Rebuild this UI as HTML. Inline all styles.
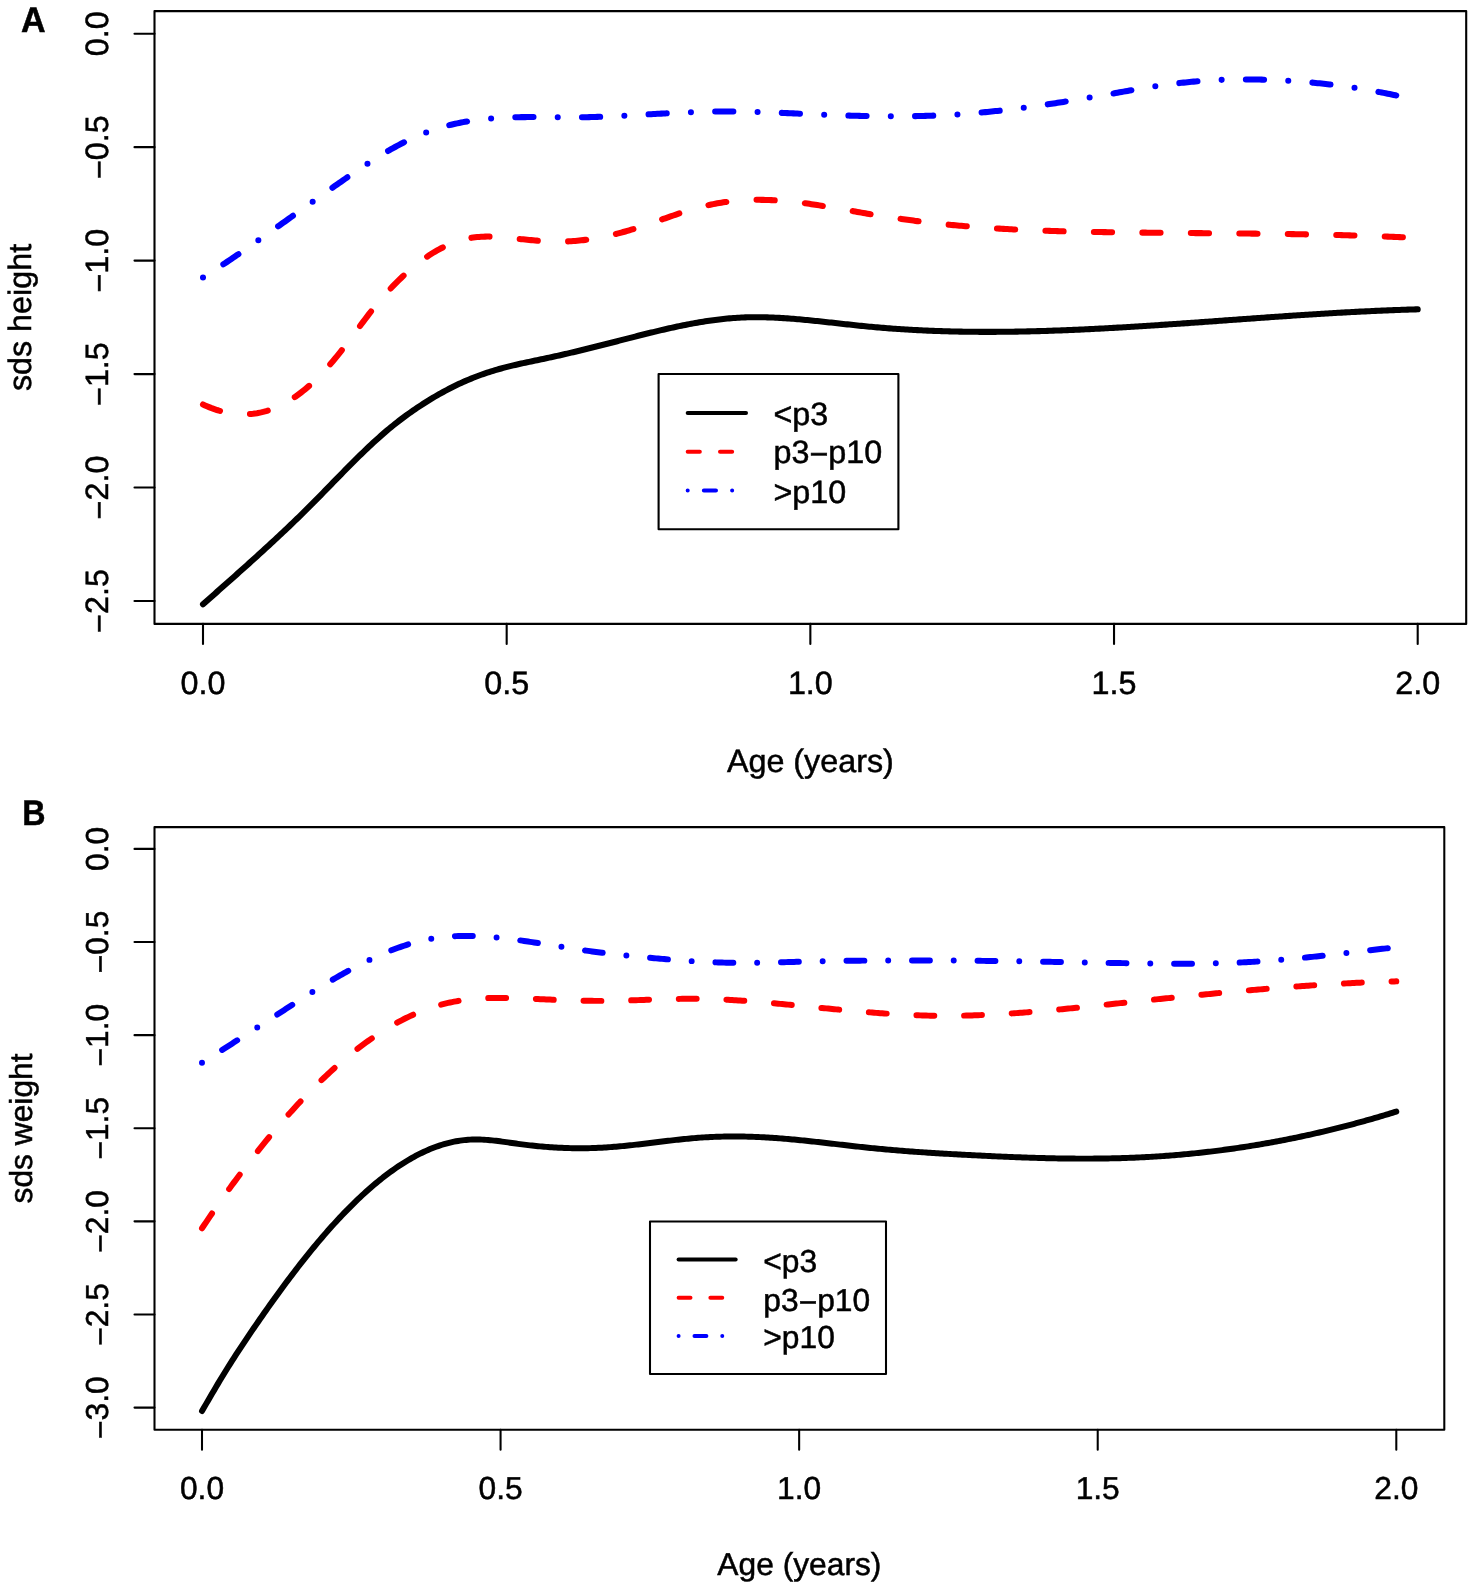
<!DOCTYPE html>
<html><head><meta charset="utf-8"><title>sds height and weight</title>
<style>
html,body{margin:0;padding:0;background:#fff;}
svg{display:block;will-change:transform;text-rendering:geometricPrecision;font-family:"Liberation Sans",sans-serif;}
text{stroke:#000;stroke-width:0.5px;}
</style></head><body>
<svg width="1476" height="1589" viewBox="0 0 1476 1589">
<rect x="0" y="0" width="1476" height="1589" fill="#fff"/>
<rect x="154.50" y="11.10" width="1311.70" height="612.80" fill="none" stroke="#000" stroke-width="2.10" stroke-linejoin="round"/>
<line x1="134.50" y1="33.70" x2="154.50" y2="33.70" stroke="#000" stroke-width="2.10" stroke-linecap="round"/>
<text transform="translate(107.80 33.70) rotate(-90)" text-anchor="middle" font-size="32.30">0.0</text>
<line x1="134.50" y1="147.16" x2="154.50" y2="147.16" stroke="#000" stroke-width="2.10" stroke-linecap="round"/>
<text transform="translate(107.80 147.16) rotate(-90)" text-anchor="middle" font-size="32.30"><tspan dy="2.1">&#8722;</tspan><tspan dy="-2.1">0.5</tspan></text>
<line x1="134.50" y1="260.62" x2="154.50" y2="260.62" stroke="#000" stroke-width="2.10" stroke-linecap="round"/>
<text transform="translate(107.80 260.62) rotate(-90)" text-anchor="middle" font-size="32.30"><tspan dy="2.1">&#8722;</tspan><tspan dy="-2.1">1.0</tspan></text>
<line x1="134.50" y1="374.08" x2="154.50" y2="374.08" stroke="#000" stroke-width="2.10" stroke-linecap="round"/>
<text transform="translate(107.80 374.08) rotate(-90)" text-anchor="middle" font-size="32.30"><tspan dy="2.1">&#8722;</tspan><tspan dy="-2.1">1.5</tspan></text>
<line x1="134.50" y1="487.54" x2="154.50" y2="487.54" stroke="#000" stroke-width="2.10" stroke-linecap="round"/>
<text transform="translate(107.80 487.54) rotate(-90)" text-anchor="middle" font-size="32.30"><tspan dy="2.1">&#8722;</tspan><tspan dy="-2.1">2.0</tspan></text>
<line x1="134.50" y1="601.00" x2="154.50" y2="601.00" stroke="#000" stroke-width="2.10" stroke-linecap="round"/>
<text transform="translate(107.80 601.00) rotate(-90)" text-anchor="middle" font-size="32.30"><tspan dy="2.1">&#8722;</tspan><tspan dy="-2.1">2.5</tspan></text>
<line x1="203.00" y1="623.90" x2="203.00" y2="643.90" stroke="#000" stroke-width="2.10" stroke-linecap="round"/>
<text x="203.00" y="694.30" text-anchor="middle" font-size="32.30">0.0</text>
<line x1="506.68" y1="623.90" x2="506.68" y2="643.90" stroke="#000" stroke-width="2.10" stroke-linecap="round"/>
<text x="506.68" y="694.30" text-anchor="middle" font-size="32.30">0.5</text>
<line x1="810.35" y1="623.90" x2="810.35" y2="643.90" stroke="#000" stroke-width="2.10" stroke-linecap="round"/>
<text x="810.35" y="694.30" text-anchor="middle" font-size="32.30">1.0</text>
<line x1="1114.03" y1="623.90" x2="1114.03" y2="643.90" stroke="#000" stroke-width="2.10" stroke-linecap="round"/>
<text x="1114.03" y="694.30" text-anchor="middle" font-size="32.30">1.5</text>
<line x1="1417.70" y1="623.90" x2="1417.70" y2="643.90" stroke="#000" stroke-width="2.10" stroke-linecap="round"/>
<text x="1417.70" y="694.30" text-anchor="middle" font-size="32.30">2.0</text>
<text x="810.35" y="771.90" text-anchor="middle" font-size="32.30">Age (years)</text>
<text transform="translate(30.50 317.50) rotate(-90)" text-anchor="middle" font-size="32.30">sds height</text>
<text transform="translate(21.00 31.90) scale(0.960 1)" font-size="35.50" font-weight="bold">A</text>
<path d="M203.00 604.30L205.00 602.52L207.00 600.74L209.00 598.97L211.00 597.19L213.01 595.42L215.01 593.65L217.01 591.87L219.01 590.10L221.01 588.33L223.01 586.55L225.01 584.78L227.01 583.01L229.01 581.23L231.02 579.45L233.02 577.68L235.02 575.90L237.02 574.12L239.02 572.33L241.02 570.55L243.02 568.76L245.02 566.97L247.03 565.17L249.03 563.38L251.03 561.58L253.03 559.77L255.03 557.97L257.03 556.15L259.03 554.34L261.03 552.52L263.03 550.69L265.04 548.86L267.04 547.03L269.04 545.19L271.04 543.34L273.04 541.49L275.04 539.63L277.04 537.77L279.04 535.90L281.04 534.02L283.05 532.14L285.05 530.25L287.05 528.35L289.05 526.45L291.05 524.53L293.05 522.61L295.05 520.68L297.05 518.75L299.06 516.80L301.06 514.84L303.06 512.88L305.06 510.91L307.06 508.93L309.06 506.93L311.06 504.93L313.06 502.92L315.06 500.90L317.07 498.87L319.07 496.84L321.07 494.80L323.07 492.75L325.07 490.70L327.07 488.65L329.07 486.60L331.07 484.54L333.07 482.49L335.08 480.44L337.08 478.38L339.08 476.34L341.08 474.29L343.08 472.25L345.08 470.21L347.08 468.19L349.08 466.16L351.09 464.15L353.09 462.15L355.09 460.15L357.09 458.17L359.09 456.20L361.09 454.25L363.09 452.30L365.09 450.38L367.09 448.46L369.10 446.57L371.10 444.69L373.10 442.83L375.10 441.00L377.10 439.18L379.10 437.38L381.10 435.61L383.10 433.86L385.10 432.13L387.11 430.43L389.11 428.76L391.11 427.11L393.11 425.49L395.11 423.89L397.11 422.31L399.11 420.76L401.11 419.24L403.12 417.73L405.12 416.25L407.12 414.80L409.12 413.36L411.12 411.95L413.12 410.55L415.12 409.18L417.12 407.83L419.12 406.50L421.13 405.19L423.13 403.89L425.13 402.62L427.13 401.36L429.13 400.13L431.13 398.91L433.13 397.71L435.13 396.52L437.13 395.36L439.14 394.22L441.14 393.09L443.14 391.99L445.14 390.90L447.14 389.84L449.14 388.79L451.14 387.76L453.14 386.76L455.15 385.77L457.15 384.80L459.15 383.85L461.15 382.93L463.15 382.02L465.15 381.14L467.15 380.27L469.15 379.42L471.15 378.60L473.16 377.79L475.16 377.00L477.16 376.24L479.16 375.49L481.16 374.76L483.16 374.05L485.16 373.36L487.16 372.69L489.16 372.03L491.17 371.40L493.17 370.78L495.17 370.18L497.17 369.59L499.17 369.03L501.17 368.47L503.17 367.93L505.17 367.41L507.18 366.89L509.18 366.39L511.18 365.90L513.18 365.42L515.18 364.95L517.18 364.48L519.18 364.03L521.18 363.58L523.18 363.14L525.19 362.71L527.19 362.27L529.19 361.85L531.19 361.42L533.19 361.00L535.19 360.59L537.19 360.17L539.19 359.75L541.19 359.33L543.20 358.91L545.20 358.49L547.20 358.07L549.20 357.64L551.20 357.21L553.20 356.77L555.20 356.33L557.20 355.89L559.21 355.44L561.21 354.98L563.21 354.53L565.21 354.07L567.21 353.60L569.21 353.13L571.21 352.66L573.21 352.19L575.21 351.71L577.22 351.23L579.22 350.75L581.22 350.26L583.22 349.77L585.22 349.28L587.22 348.79L589.22 348.29L591.22 347.79L593.22 347.29L595.23 346.79L597.23 346.29L599.23 345.78L601.23 345.27L603.23 344.77L605.23 344.26L607.23 343.75L609.23 343.24L611.24 342.73L613.24 342.21L615.24 341.70L617.24 341.19L619.24 340.67L621.24 340.16L623.24 339.65L625.24 339.13L627.24 338.62L629.25 338.11L631.25 337.59L633.25 337.08L635.25 336.57L637.25 336.06L639.25 335.56L641.25 335.05L643.25 334.55L645.25 334.05L647.26 333.55L649.26 333.06L651.26 332.56L653.26 332.08L655.26 331.59L657.26 331.11L659.26 330.63L661.26 330.16L663.27 329.69L665.27 329.23L667.27 328.77L669.27 328.32L671.27 327.87L673.27 327.43L675.27 326.99L677.27 326.57L679.27 326.14L681.28 325.73L683.28 325.32L685.28 324.92L687.28 324.52L689.28 324.14L691.28 323.76L693.28 323.39L695.28 323.02L697.28 322.67L699.29 322.33L701.29 321.99L703.29 321.66L705.29 321.35L707.29 321.04L709.29 320.74L711.29 320.46L713.29 320.18L715.30 319.92L717.30 319.66L719.30 319.42L721.30 319.19L723.30 318.97L725.30 318.76L727.30 318.57L729.30 318.39L731.30 318.22L733.31 318.06L735.31 317.92L737.31 317.79L739.31 317.67L741.31 317.57L743.31 317.48L745.31 317.40L747.31 317.34L749.31 317.29L751.32 317.25L753.32 317.23L755.32 317.22L757.32 317.22L759.32 317.23L761.32 317.25L763.32 317.28L765.32 317.32L767.33 317.38L769.33 317.44L771.33 317.51L773.33 317.59L775.33 317.68L777.33 317.78L779.33 317.89L781.33 318.00L783.33 318.13L785.34 318.26L787.34 318.39L789.34 318.54L791.34 318.69L793.34 318.85L795.34 319.01L797.34 319.18L799.34 319.35L801.34 319.53L803.35 319.71L805.35 319.90L807.35 320.09L809.35 320.28L811.35 320.48L813.35 320.68L815.35 320.89L817.35 321.09L819.36 321.31L821.36 321.52L823.36 321.73L825.36 321.95L827.36 322.17L829.36 322.39L831.36 322.61L833.36 322.83L835.36 323.05L837.37 323.27L839.37 323.49L841.37 323.72L843.37 323.94L845.37 324.16L847.37 324.38L849.37 324.60L851.37 324.81L853.37 325.03L855.38 325.24L857.38 325.45L859.38 325.66L861.38 325.87L863.38 326.07L865.38 326.27L867.38 326.46L869.38 326.66L871.39 326.84L873.39 327.03L875.39 327.21L877.39 327.39L879.39 327.56L881.39 327.73L883.39 327.89L885.39 328.05L887.39 328.21L889.40 328.36L891.40 328.52L893.40 328.66L895.40 328.80L897.40 328.94L899.40 329.08L901.40 329.21L903.40 329.34L905.40 329.47L907.41 329.59L909.41 329.71L911.41 329.82L913.41 329.93L915.41 330.04L917.41 330.14L919.41 330.25L921.41 330.34L923.42 330.44L925.42 330.53L927.42 330.62L929.42 330.70L931.42 330.78L933.42 330.86L935.42 330.94L937.42 331.01L939.42 331.08L941.43 331.15L943.43 331.21L945.43 331.27L947.43 331.33L949.43 331.38L951.43 331.43L953.43 331.48L955.43 331.52L957.43 331.57L959.44 331.61L961.44 331.64L963.44 331.68L965.44 331.71L967.44 331.73L969.44 331.76L971.44 331.78L973.44 331.80L975.45 331.82L977.45 331.83L979.45 331.85L981.45 331.86L983.45 331.86L985.45 331.87L987.45 331.87L989.45 331.87L991.45 331.86L993.46 331.86L995.46 331.85L997.46 331.84L999.46 331.83L1001.46 331.81L1003.46 331.79L1005.46 331.77L1007.46 331.75L1009.46 331.72L1011.47 331.70L1013.47 331.67L1015.47 331.64L1017.47 331.60L1019.47 331.57L1021.47 331.53L1023.47 331.49L1025.47 331.45L1027.48 331.40L1029.48 331.36L1031.48 331.31L1033.48 331.26L1035.48 331.21L1037.48 331.15L1039.48 331.10L1041.48 331.04L1043.48 330.98L1045.49 330.92L1047.49 330.85L1049.49 330.79L1051.49 330.72L1053.49 330.65L1055.49 330.58L1057.49 330.51L1059.49 330.43L1061.49 330.36L1063.50 330.28L1065.50 330.20L1067.50 330.12L1069.50 330.04L1071.50 329.95L1073.50 329.87L1075.50 329.78L1077.50 329.69L1079.51 329.60L1081.51 329.51L1083.51 329.42L1085.51 329.33L1087.51 329.23L1089.51 329.13L1091.51 329.04L1093.51 328.94L1095.51 328.83L1097.52 328.73L1099.52 328.63L1101.52 328.52L1103.52 328.42L1105.52 328.31L1107.52 328.20L1109.52 328.09L1111.52 327.98L1113.52 327.87L1115.53 327.76L1117.53 327.64L1119.53 327.53L1121.53 327.41L1123.53 327.29L1125.53 327.18L1127.53 327.06L1129.53 326.94L1131.54 326.81L1133.54 326.69L1135.54 326.57L1137.54 326.45L1139.54 326.32L1141.54 326.19L1143.54 326.07L1145.54 325.94L1147.54 325.81L1149.55 325.68L1151.55 325.55L1153.55 325.42L1155.55 325.29L1157.55 325.16L1159.55 325.03L1161.55 324.89L1163.55 324.76L1165.55 324.62L1167.56 324.49L1169.56 324.35L1171.56 324.22L1173.56 324.08L1175.56 323.94L1177.56 323.80L1179.56 323.67L1181.56 323.53L1183.57 323.39L1185.57 323.25L1187.57 323.11L1189.57 322.97L1191.57 322.82L1193.57 322.68L1195.57 322.54L1197.57 322.40L1199.57 322.26L1201.58 322.11L1203.58 321.97L1205.58 321.83L1207.58 321.68L1209.58 321.54L1211.58 321.40L1213.58 321.25L1215.58 321.11L1217.58 320.96L1219.59 320.82L1221.59 320.68L1223.59 320.53L1225.59 320.39L1227.59 320.24L1229.59 320.10L1231.59 319.95L1233.59 319.81L1235.60 319.67L1237.60 319.52L1239.60 319.38L1241.60 319.23L1243.60 319.09L1245.60 318.95L1247.60 318.80L1249.60 318.66L1251.60 318.51L1253.61 318.37L1255.61 318.23L1257.61 318.09L1259.61 317.94L1261.61 317.80L1263.61 317.66L1265.61 317.52L1267.61 317.38L1269.61 317.24L1271.62 317.10L1273.62 316.96L1275.62 316.82L1277.62 316.68L1279.62 316.54L1281.62 316.41L1283.62 316.27L1285.62 316.13L1287.63 316.00L1289.63 315.86L1291.63 315.73L1293.63 315.59L1295.63 315.46L1297.63 315.33L1299.63 315.20L1301.63 315.06L1303.63 314.93L1305.64 314.80L1307.64 314.67L1309.64 314.55L1311.64 314.42L1313.64 314.29L1315.64 314.17L1317.64 314.04L1319.64 313.92L1321.64 313.79L1323.65 313.67L1325.65 313.55L1327.65 313.43L1329.65 313.31L1331.65 313.19L1333.65 313.08L1335.65 312.96L1337.65 312.84L1339.66 312.73L1341.66 312.62L1343.66 312.50L1345.66 312.39L1347.66 312.28L1349.66 312.18L1351.66 312.07L1353.66 311.96L1355.66 311.86L1357.67 311.75L1359.67 311.65L1361.67 311.55L1363.67 311.45L1365.67 311.35L1367.67 311.26L1369.67 311.16L1371.67 311.07L1373.67 310.97L1375.68 310.88L1377.68 310.79L1379.68 310.71L1381.68 310.62L1383.68 310.53L1385.68 310.45L1387.68 310.37L1389.68 310.29L1391.69 310.21L1393.69 310.13L1395.69 310.06L1397.69 309.98L1399.69 309.91L1401.69 309.84L1403.69 309.77L1405.69 309.70L1407.69 309.64L1409.70 309.57L1411.70 309.51L1413.70 309.45L1415.70 309.39L1417.70 309.34" fill="none" stroke="#000" stroke-width="6.06" stroke-linecap="round" stroke-linejoin="round"/>
<path d="M203.00 404.50L205.00 405.42L207.00 406.30L209.00 407.13L211.00 407.92L213.01 408.66L215.01 409.36L217.01 410.02L219.01 410.63L221.01 411.19L223.01 411.71L225.01 412.18L227.01 412.61L229.01 412.98L231.02 413.32L233.02 413.60L235.02 413.83L237.02 414.02L239.02 414.16L241.02 414.25L243.02 414.29L245.02 414.28L247.03 414.22L249.03 414.11L251.03 413.95L253.03 413.74L255.03 413.47L257.03 413.16L259.03 412.79L261.03 412.37L263.03 411.90L265.04 411.38L267.04 410.80L269.04 410.17L271.04 409.48L273.04 408.75L275.04 407.95L277.04 407.10L279.04 406.20L281.04 405.24L283.05 404.22L285.05 403.15L287.05 402.02L289.05 400.84L291.05 399.59L293.05 398.29L295.05 396.94L297.05 395.52L299.06 394.05L301.06 392.52L303.06 390.93L305.06 389.29L307.06 387.59L309.06 385.84L311.06 384.04L313.06 382.19L315.06 380.28L317.07 378.32L319.07 376.32L321.07 374.26L323.07 372.15L325.07 370.00L327.07 367.80L329.07 365.55L331.07 363.26L333.07 360.92L335.08 358.54L337.08 356.11L339.08 353.65L341.08 351.13L343.08 348.58L345.08 345.99L347.08 343.37L349.08 340.72L351.09 338.04L353.09 335.35L355.09 332.65L357.09 329.95L359.09 327.25L361.09 324.55L363.09 321.87L365.09 319.21L367.09 316.57L369.10 313.96L371.10 311.39L373.10 308.86L375.10 306.38L377.10 303.94L379.10 301.54L381.10 299.18L383.10 296.87L385.10 294.59L387.11 292.37L389.11 290.18L391.11 288.04L393.11 285.93L395.11 283.88L397.11 281.86L399.11 279.88L401.11 277.95L403.12 276.06L405.12 274.21L407.12 272.40L409.12 270.64L411.12 268.91L413.12 267.23L415.12 265.59L417.12 264.00L419.12 262.45L421.13 260.94L423.13 259.47L425.13 258.05L427.13 256.67L429.13 255.34L431.13 254.05L433.13 252.80L435.13 251.60L437.13 250.45L439.14 249.33L441.14 248.27L443.14 247.25L445.14 246.28L447.14 245.35L449.14 244.47L451.14 243.63L453.14 242.84L455.15 242.10L457.15 241.41L459.15 240.76L461.15 240.16L463.15 239.61L465.15 239.10L467.15 238.65L469.15 238.24L471.15 237.88L473.16 237.57L475.16 237.30L477.16 237.08L479.16 236.91L481.16 236.77L483.16 236.67L485.16 236.61L487.16 236.58L489.16 236.59L491.17 236.62L493.17 236.68L495.17 236.77L497.17 236.87L499.17 237.00L501.17 237.15L503.17 237.31L505.17 237.49L507.18 237.68L509.18 237.88L511.18 238.09L513.18 238.30L515.18 238.51L517.18 238.73L519.18 238.94L521.18 239.16L523.18 239.36L525.19 239.57L527.19 239.76L529.19 239.95L531.19 240.13L533.19 240.31L535.19 240.47L537.19 240.63L539.19 240.78L541.19 240.91L543.20 241.04L545.20 241.15L547.20 241.25L549.20 241.34L551.20 241.41L553.20 241.47L555.20 241.51L557.20 241.53L559.21 241.54L561.21 241.53L563.21 241.50L565.21 241.46L567.21 241.39L569.21 241.30L571.21 241.19L573.21 241.07L575.21 240.92L577.22 240.75L579.22 240.56L581.22 240.35L583.22 240.13L585.22 239.88L587.22 239.62L589.22 239.33L591.22 239.03L593.22 238.72L595.23 238.38L597.23 238.03L599.23 237.66L601.23 237.27L603.23 236.87L605.23 236.46L607.23 236.02L609.23 235.57L611.24 235.11L613.24 234.63L615.24 234.14L617.24 233.63L619.24 233.11L621.24 232.57L623.24 232.02L625.24 231.46L627.24 230.89L629.25 230.30L631.25 229.70L633.25 229.09L635.25 228.47L637.25 227.83L639.25 227.19L641.25 226.53L643.25 225.87L645.25 225.20L647.26 224.52L649.26 223.84L651.26 223.15L653.26 222.46L655.26 221.76L657.26 221.06L659.26 220.36L661.26 219.66L663.27 218.96L665.27 218.27L667.27 217.57L669.27 216.87L671.27 216.18L673.27 215.50L675.27 214.82L677.27 214.14L679.27 213.48L681.28 212.82L683.28 212.17L685.28 211.53L687.28 210.90L689.28 210.28L691.28 209.68L693.28 209.09L695.28 208.51L697.28 207.95L699.29 207.41L701.29 206.88L703.29 206.37L705.29 205.87L707.29 205.40L709.29 204.95L711.29 204.52L713.29 204.11L715.30 203.72L717.30 203.35L719.30 203.00L721.30 202.67L723.30 202.36L725.30 202.07L727.30 201.80L729.30 201.55L731.30 201.31L733.31 201.10L735.31 200.90L737.31 200.72L739.31 200.55L741.31 200.41L743.31 200.28L745.31 200.17L747.31 200.07L749.31 199.99L751.32 199.93L753.32 199.88L755.32 199.85L757.32 199.83L759.32 199.83L761.32 199.85L763.32 199.87L765.32 199.92L767.33 199.97L769.33 200.04L771.33 200.13L773.33 200.22L775.33 200.33L777.33 200.45L779.33 200.59L781.33 200.74L783.33 200.89L785.34 201.06L787.34 201.25L789.34 201.44L791.34 201.64L793.34 201.85L795.34 202.07L797.34 202.31L799.34 202.55L801.34 202.80L803.35 203.05L805.35 203.32L807.35 203.59L809.35 203.87L811.35 204.16L813.35 204.45L815.35 204.75L817.35 205.06L819.36 205.37L821.36 205.69L823.36 206.01L825.36 206.34L827.36 206.67L829.36 207.01L831.36 207.34L833.36 207.69L835.36 208.03L837.37 208.38L839.37 208.73L841.37 209.08L843.37 209.43L845.37 209.79L847.37 210.14L849.37 210.50L851.37 210.85L853.37 211.21L855.38 211.56L857.38 211.92L859.38 212.27L861.38 212.62L863.38 212.97L865.38 213.32L867.38 213.66L869.38 214.00L871.39 214.34L873.39 214.68L875.39 215.01L877.39 215.34L879.39 215.66L881.39 215.98L883.39 216.30L885.39 216.61L887.39 216.92L889.40 217.23L891.40 217.53L893.40 217.83L895.40 218.12L897.40 218.42L899.40 218.70L901.40 218.99L903.40 219.27L905.40 219.55L907.41 219.82L909.41 220.09L911.41 220.36L913.41 220.62L915.41 220.88L917.41 221.13L919.41 221.39L921.41 221.63L923.42 221.88L925.42 222.12L927.42 222.36L929.42 222.59L931.42 222.82L933.42 223.05L935.42 223.27L937.42 223.49L939.42 223.71L941.43 223.92L943.43 224.13L945.43 224.34L947.43 224.54L949.43 224.74L951.43 224.93L953.43 225.12L955.43 225.31L957.43 225.50L959.44 225.68L961.44 225.85L963.44 226.03L965.44 226.20L967.44 226.37L969.44 226.53L971.44 226.69L973.44 226.85L975.45 227.01L977.45 227.16L979.45 227.31L981.45 227.45L983.45 227.60L985.45 227.74L987.45 227.87L989.45 228.01L991.45 228.14L993.46 228.27L995.46 228.39L997.46 228.52L999.46 228.64L1001.46 228.76L1003.46 228.87L1005.46 228.98L1007.46 229.09L1009.46 229.20L1011.47 229.31L1013.47 229.41L1015.47 229.51L1017.47 229.61L1019.47 229.70L1021.47 229.80L1023.47 229.89L1025.47 229.98L1027.48 230.06L1029.48 230.15L1031.48 230.23L1033.48 230.31L1035.48 230.39L1037.48 230.47L1039.48 230.54L1041.48 230.61L1043.48 230.69L1045.49 230.75L1047.49 230.82L1049.49 230.89L1051.49 230.95L1053.49 231.01L1055.49 231.07L1057.49 231.13L1059.49 231.19L1061.49 231.24L1063.50 231.30L1065.50 231.35L1067.50 231.40L1069.50 231.45L1071.50 231.50L1073.50 231.55L1075.50 231.59L1077.50 231.64L1079.51 231.68L1081.51 231.72L1083.51 231.76L1085.51 231.80L1087.51 231.84L1089.51 231.88L1091.51 231.92L1093.51 231.95L1095.51 231.99L1097.52 232.02L1099.52 232.05L1101.52 232.09L1103.52 232.12L1105.52 232.15L1107.52 232.18L1109.52 232.21L1111.52 232.24L1113.52 232.27L1115.53 232.29L1117.53 232.32L1119.53 232.35L1121.53 232.37L1123.53 232.40L1125.53 232.42L1127.53 232.45L1129.53 232.47L1131.54 232.50L1133.54 232.52L1135.54 232.54L1137.54 232.56L1139.54 232.59L1141.54 232.61L1143.54 232.63L1145.54 232.65L1147.54 232.67L1149.55 232.69L1151.55 232.71L1153.55 232.73L1155.55 232.75L1157.55 232.77L1159.55 232.79L1161.55 232.81L1163.55 232.82L1165.55 232.84L1167.56 232.86L1169.56 232.88L1171.56 232.90L1173.56 232.91L1175.56 232.93L1177.56 232.95L1179.56 232.96L1181.56 232.98L1183.57 233.00L1185.57 233.01L1187.57 233.03L1189.57 233.05L1191.57 233.06L1193.57 233.08L1195.57 233.10L1197.57 233.11L1199.57 233.13L1201.58 233.14L1203.58 233.16L1205.58 233.18L1207.58 233.19L1209.58 233.21L1211.58 233.23L1213.58 233.24L1215.58 233.26L1217.58 233.28L1219.59 233.30L1221.59 233.31L1223.59 233.33L1225.59 233.35L1227.59 233.37L1229.59 233.38L1231.59 233.40L1233.59 233.42L1235.60 233.44L1237.60 233.46L1239.60 233.48L1241.60 233.50L1243.60 233.52L1245.60 233.54L1247.60 233.56L1249.60 233.58L1251.60 233.60L1253.61 233.62L1255.61 233.64L1257.61 233.67L1259.61 233.69L1261.61 233.71L1263.61 233.74L1265.61 233.76L1267.61 233.78L1269.61 233.81L1271.62 233.83L1273.62 233.86L1275.62 233.89L1277.62 233.91L1279.62 233.94L1281.62 233.97L1283.62 234.00L1285.62 234.03L1287.63 234.06L1289.63 234.09L1291.63 234.12L1293.63 234.15L1295.63 234.18L1297.63 234.22L1299.63 234.25L1301.63 234.29L1303.63 234.32L1305.64 234.36L1307.64 234.39L1309.64 234.43L1311.64 234.47L1313.64 234.51L1315.64 234.55L1317.64 234.59L1319.64 234.63L1321.64 234.67L1323.65 234.71L1325.65 234.76L1327.65 234.80L1329.65 234.85L1331.65 234.89L1333.65 234.94L1335.65 234.99L1337.65 235.04L1339.66 235.09L1341.66 235.14L1343.66 235.19L1345.66 235.25L1347.66 235.30L1349.66 235.36L1351.66 235.41L1353.66 235.47L1355.66 235.53L1357.67 235.59L1359.67 235.65L1361.67 235.71L1363.67 235.77L1365.67 235.83L1367.67 235.90L1369.67 235.96L1371.67 236.03L1373.67 236.10L1375.68 236.17L1377.68 236.24L1379.68 236.31L1381.68 236.38L1383.68 236.46L1385.68 236.53L1387.68 236.61L1389.68 236.69L1391.69 236.77L1393.69 236.85L1395.69 236.93L1397.69 237.02L1399.69 237.10L1401.69 237.19L1403.69 237.27L1405.69 237.36L1407.69 237.45L1409.70 237.54L1411.70 237.64L1413.70 237.73L1415.70 237.83L1417.70 237.93" fill="none" stroke="#f00" stroke-width="6.06" stroke-linecap="round" stroke-linejoin="round" stroke-dasharray="18.18 30.30"/>
<path d="M203.00 277.49L205.00 276.22L207.00 274.95L209.00 273.67L211.00 272.38L213.01 271.09L215.01 269.79L217.01 268.48L219.01 267.17L221.01 265.85L223.01 264.52L225.01 263.19L227.01 261.86L229.01 260.52L231.02 259.17L233.02 257.82L235.02 256.46L237.02 255.10L239.02 253.74L241.02 252.37L243.02 250.99L245.02 249.61L247.03 248.23L249.03 246.84L251.03 245.45L253.03 244.06L255.03 242.66L257.03 241.26L259.03 239.86L261.03 238.45L263.03 237.05L265.04 235.63L267.04 234.22L269.04 232.81L271.04 231.39L273.04 229.97L275.04 228.55L277.04 227.12L279.04 225.70L281.04 224.27L283.05 222.84L285.05 221.42L287.05 219.99L289.05 218.56L291.05 217.13L293.05 215.70L295.05 214.27L297.05 212.84L299.06 211.40L301.06 209.97L303.06 208.54L305.06 207.11L307.06 205.69L309.06 204.26L311.06 202.83L313.06 201.41L315.06 199.98L317.07 198.56L319.07 197.14L321.07 195.72L323.07 194.30L325.07 192.88L327.07 191.47L329.07 190.06L331.07 188.65L333.07 187.25L335.08 185.85L337.08 184.45L339.08 183.05L341.08 181.66L343.08 180.27L345.08 178.88L347.08 177.50L349.08 176.12L351.09 174.75L353.09 173.38L355.09 172.02L357.09 170.66L359.09 169.31L361.09 167.97L363.09 166.64L365.09 165.32L367.09 164.00L369.10 162.70L371.10 161.41L373.10 160.12L375.10 158.86L377.10 157.60L379.10 156.36L381.10 155.13L383.10 153.92L385.10 152.73L387.11 151.55L389.11 150.39L391.11 149.24L393.11 148.12L395.11 147.01L397.11 145.92L399.11 144.85L401.11 143.81L403.12 142.78L405.12 141.77L407.12 140.78L409.12 139.81L411.12 138.86L413.12 137.94L415.12 137.03L417.12 136.15L419.12 135.30L421.13 134.46L423.13 133.65L425.13 132.86L427.13 132.10L429.13 131.36L431.13 130.64L433.13 129.95L435.13 129.28L437.13 128.64L439.14 128.01L441.14 127.41L443.14 126.83L445.14 126.27L447.14 125.74L449.14 125.22L451.14 124.72L453.14 124.25L455.15 123.79L457.15 123.35L459.15 122.93L461.15 122.53L463.15 122.14L465.15 121.78L467.15 121.43L469.15 121.10L471.15 120.78L473.16 120.48L475.16 120.20L477.16 119.93L479.16 119.68L481.16 119.44L483.16 119.21L485.16 119.00L487.16 118.81L489.16 118.62L491.17 118.45L493.17 118.29L495.17 118.14L497.17 118.01L499.17 117.89L501.17 117.77L503.17 117.67L505.17 117.58L507.18 117.49L509.18 117.42L511.18 117.35L513.18 117.29L515.18 117.25L517.18 117.20L519.18 117.17L521.18 117.14L523.18 117.12L525.19 117.10L527.19 117.09L529.19 117.08L531.19 117.08L533.19 117.08L535.19 117.09L537.19 117.10L539.19 117.11L541.19 117.12L543.20 117.14L545.20 117.16L547.20 117.18L549.20 117.20L551.20 117.22L553.20 117.24L555.20 117.26L557.20 117.27L559.21 117.29L561.21 117.31L563.21 117.32L565.21 117.33L567.21 117.34L569.21 117.35L571.21 117.35L573.21 117.34L575.21 117.34L577.22 117.32L579.22 117.30L581.22 117.28L583.22 117.25L585.22 117.21L587.22 117.17L589.22 117.13L591.22 117.08L593.22 117.02L595.23 116.96L597.23 116.89L599.23 116.83L601.23 116.75L603.23 116.68L605.23 116.59L607.23 116.51L609.23 116.42L611.24 116.33L613.24 116.24L615.24 116.14L617.24 116.04L619.24 115.94L621.24 115.84L623.24 115.73L625.24 115.63L627.24 115.52L629.25 115.41L631.25 115.30L633.25 115.18L635.25 115.07L637.25 114.96L639.25 114.84L641.25 114.73L643.25 114.62L645.25 114.50L647.26 114.39L649.26 114.28L651.26 114.16L653.26 114.05L655.26 113.94L657.26 113.83L659.26 113.72L661.26 113.62L663.27 113.51L665.27 113.41L667.27 113.30L669.27 113.20L671.27 113.10L673.27 113.01L675.27 112.91L677.27 112.82L679.27 112.72L681.28 112.63L683.28 112.55L685.28 112.46L687.28 112.38L689.28 112.30L691.28 112.22L693.28 112.15L695.28 112.08L697.28 112.01L699.29 111.95L701.29 111.89L703.29 111.83L705.29 111.78L707.29 111.73L709.29 111.68L711.29 111.64L713.29 111.60L715.30 111.56L717.30 111.53L719.30 111.51L721.30 111.48L723.30 111.47L725.30 111.45L727.30 111.45L729.30 111.44L731.30 111.44L733.31 111.45L735.31 111.46L737.31 111.48L739.31 111.50L741.31 111.53L743.31 111.56L745.31 111.60L747.31 111.64L749.31 111.69L751.32 111.74L753.32 111.79L755.32 111.85L757.32 111.91L759.32 111.97L761.32 112.04L763.32 112.11L765.32 112.18L767.33 112.26L769.33 112.33L771.33 112.41L773.33 112.50L775.33 112.58L777.33 112.67L779.33 112.75L781.33 112.84L783.33 112.93L785.34 113.02L787.34 113.11L789.34 113.21L791.34 113.30L793.34 113.39L795.34 113.48L797.34 113.58L799.34 113.67L801.34 113.76L803.35 113.85L805.35 113.94L807.35 114.03L809.35 114.12L811.35 114.21L813.35 114.29L815.35 114.38L817.35 114.46L819.36 114.55L821.36 114.63L823.36 114.71L825.36 114.79L827.36 114.87L829.36 114.94L831.36 115.02L833.36 115.09L835.36 115.16L837.37 115.23L839.37 115.30L841.37 115.37L843.37 115.44L845.37 115.50L847.37 115.56L849.37 115.62L851.37 115.68L853.37 115.73L855.38 115.79L857.38 115.84L859.38 115.89L861.38 115.93L863.38 115.98L865.38 116.02L867.38 116.06L869.38 116.10L871.39 116.13L873.39 116.16L875.39 116.19L877.39 116.22L879.39 116.24L881.39 116.26L883.39 116.28L885.39 116.29L887.39 116.31L889.40 116.32L891.40 116.32L893.40 116.32L895.40 116.32L897.40 116.32L899.40 116.31L901.40 116.30L903.40 116.29L905.40 116.27L907.41 116.25L909.41 116.22L911.41 116.20L913.41 116.16L915.41 116.13L917.41 116.09L919.41 116.05L921.41 116.00L923.42 115.95L925.42 115.89L927.42 115.83L929.42 115.77L931.42 115.70L933.42 115.63L935.42 115.55L937.42 115.47L939.42 115.39L941.43 115.30L943.43 115.20L945.43 115.10L947.43 115.00L949.43 114.89L951.43 114.78L953.43 114.66L955.43 114.54L957.43 114.41L959.44 114.28L961.44 114.14L963.44 114.00L965.44 113.85L967.44 113.70L969.44 113.55L971.44 113.39L973.44 113.22L975.45 113.05L977.45 112.88L979.45 112.70L981.45 112.51L983.45 112.33L985.45 112.13L987.45 111.94L989.45 111.74L991.45 111.53L993.46 111.33L995.46 111.11L997.46 110.90L999.46 110.68L1001.46 110.45L1003.46 110.22L1005.46 109.99L1007.46 109.76L1009.46 109.52L1011.47 109.28L1013.47 109.03L1015.47 108.78L1017.47 108.53L1019.47 108.27L1021.47 108.01L1023.47 107.75L1025.47 107.48L1027.48 107.21L1029.48 106.94L1031.48 106.67L1033.48 106.39L1035.48 106.11L1037.48 105.82L1039.48 105.53L1041.48 105.24L1043.48 104.95L1045.49 104.66L1047.49 104.36L1049.49 104.06L1051.49 103.76L1053.49 103.45L1055.49 103.14L1057.49 102.83L1059.49 102.52L1061.49 102.20L1063.50 101.89L1065.50 101.57L1067.50 101.25L1069.50 100.92L1071.50 100.60L1073.50 100.27L1075.50 99.94L1077.50 99.61L1079.51 99.28L1081.51 98.95L1083.51 98.61L1085.51 98.27L1087.51 97.93L1089.51 97.59L1091.51 97.25L1093.51 96.91L1095.51 96.56L1097.52 96.22L1099.52 95.87L1101.52 95.52L1103.52 95.17L1105.52 94.82L1107.52 94.47L1109.52 94.11L1111.52 93.76L1113.52 93.41L1115.53 93.05L1117.53 92.70L1119.53 92.34L1121.53 91.98L1123.53 91.63L1125.53 91.27L1127.53 90.92L1129.53 90.57L1131.54 90.22L1133.54 89.87L1135.54 89.52L1137.54 89.18L1139.54 88.84L1141.54 88.50L1143.54 88.17L1145.54 87.84L1147.54 87.52L1149.55 87.19L1151.55 86.88L1153.55 86.57L1155.55 86.26L1157.55 85.96L1159.55 85.67L1161.55 85.38L1163.55 85.10L1165.55 84.82L1167.56 84.55L1169.56 84.29L1171.56 84.03L1173.56 83.78L1175.56 83.54L1177.56 83.30L1179.56 83.07L1181.56 82.84L1183.57 82.62L1185.57 82.41L1187.57 82.21L1189.57 82.01L1191.57 81.82L1193.57 81.64L1195.57 81.47L1197.57 81.30L1199.57 81.14L1201.58 80.99L1203.58 80.84L1205.58 80.71L1207.58 80.58L1209.58 80.45L1211.58 80.34L1213.58 80.23L1215.58 80.13L1217.58 80.04L1219.59 79.95L1221.59 79.87L1223.59 79.80L1225.59 79.73L1227.59 79.67L1229.59 79.62L1231.59 79.57L1233.59 79.53L1235.60 79.50L1237.60 79.47L1239.60 79.45L1241.60 79.43L1243.60 79.42L1245.60 79.42L1247.60 79.43L1249.60 79.44L1251.60 79.45L1253.61 79.48L1255.61 79.50L1257.61 79.54L1259.61 79.58L1261.61 79.62L1263.61 79.67L1265.61 79.73L1267.61 79.79L1269.61 79.86L1271.62 79.93L1273.62 80.01L1275.62 80.10L1277.62 80.18L1279.62 80.28L1281.62 80.38L1283.62 80.49L1285.62 80.60L1287.63 80.72L1289.63 80.84L1291.63 80.97L1293.63 81.10L1295.63 81.24L1297.63 81.39L1299.63 81.54L1301.63 81.69L1303.63 81.86L1305.64 82.02L1307.64 82.20L1309.64 82.37L1311.64 82.56L1313.64 82.75L1315.64 82.94L1317.64 83.14L1319.64 83.35L1321.64 83.56L1323.65 83.78L1325.65 84.00L1327.65 84.23L1329.65 84.46L1331.65 84.70L1333.65 84.95L1335.65 85.20L1337.65 85.46L1339.66 85.72L1341.66 85.99L1343.66 86.26L1345.66 86.54L1347.66 86.82L1349.66 87.11L1351.66 87.41L1353.66 87.71L1355.66 88.02L1357.67 88.33L1359.67 88.65L1361.67 88.97L1363.67 89.30L1365.67 89.63L1367.67 89.97L1369.67 90.32L1371.67 90.67L1373.67 91.03L1375.68 91.39L1377.68 91.76L1379.68 92.13L1381.68 92.51L1383.68 92.90L1385.68 93.29L1387.68 93.69L1389.68 94.09L1391.69 94.50L1393.69 94.91L1395.69 95.33L1397.69 95.75L1399.69 96.18L1401.69 96.62L1403.69 97.06L1405.69 97.51L1407.69 97.96L1409.70 98.42L1411.70 98.89L1413.70 99.36L1415.70 99.83L1417.70 100.31" fill="none" stroke="#00f" stroke-width="6.06" stroke-linecap="round" stroke-linejoin="round" stroke-dasharray="0 24.24 18.18 24.24"/>
<rect x="658.60" y="374.00" width="239.80" height="155.30" fill="#fff" stroke="#000" stroke-width="2.10" stroke-linejoin="round"/>
<line x1="687.70" y1="412.90" x2="746.00" y2="412.90" stroke="#000" stroke-width="4.04" stroke-linecap="round"/>
<line x1="687.70" y1="451.70" x2="746.00" y2="451.70" stroke="#f00" stroke-width="4.04" stroke-linecap="round" stroke-dasharray="12.12 20.20"/>
<line x1="687.70" y1="490.50" x2="746.00" y2="490.50" stroke="#00f" stroke-width="4.04" stroke-linecap="round" stroke-dasharray="0 16.16 12.12 16.16"/>
<text x="773.50" y="424.80" font-size="32.30">&lt;p3</text>
<text x="773.50" y="463.30" font-size="32.30">p3<tspan dy="1.9">&#8722;</tspan><tspan dy="-1.9">p10</tspan></text>
<text x="773.50" y="503.30" font-size="32.30">&gt;p10</text>
<rect x="154.50" y="827.10" width="1289.80" height="602.70" fill="none" stroke="#000" stroke-width="2.06" stroke-linejoin="round"/>
<line x1="134.50" y1="848.90" x2="154.50" y2="848.90" stroke="#000" stroke-width="2.06" stroke-linecap="round"/>
<text transform="translate(108.10 848.90) rotate(-90)" text-anchor="middle" font-size="31.75">0.0</text>
<line x1="134.50" y1="942.02" x2="154.50" y2="942.02" stroke="#000" stroke-width="2.06" stroke-linecap="round"/>
<text transform="translate(108.10 942.02) rotate(-90)" text-anchor="middle" font-size="31.75"><tspan dy="3.0">&#8722;</tspan><tspan dy="-3.0">0.5</tspan></text>
<line x1="134.50" y1="1035.13" x2="154.50" y2="1035.13" stroke="#000" stroke-width="2.06" stroke-linecap="round"/>
<text transform="translate(108.10 1035.13) rotate(-90)" text-anchor="middle" font-size="31.75"><tspan dy="3.0">&#8722;</tspan><tspan dy="-3.0">1.0</tspan></text>
<line x1="134.50" y1="1128.25" x2="154.50" y2="1128.25" stroke="#000" stroke-width="2.06" stroke-linecap="round"/>
<text transform="translate(108.10 1128.25) rotate(-90)" text-anchor="middle" font-size="31.75"><tspan dy="3.0">&#8722;</tspan><tspan dy="-3.0">1.5</tspan></text>
<line x1="134.50" y1="1221.37" x2="154.50" y2="1221.37" stroke="#000" stroke-width="2.06" stroke-linecap="round"/>
<text transform="translate(108.10 1221.37) rotate(-90)" text-anchor="middle" font-size="31.75"><tspan dy="3.0">&#8722;</tspan><tspan dy="-3.0">2.0</tspan></text>
<line x1="134.50" y1="1314.49" x2="154.50" y2="1314.49" stroke="#000" stroke-width="2.06" stroke-linecap="round"/>
<text transform="translate(108.10 1314.49) rotate(-90)" text-anchor="middle" font-size="31.75"><tspan dy="3.0">&#8722;</tspan><tspan dy="-3.0">2.5</tspan></text>
<line x1="134.50" y1="1407.60" x2="154.50" y2="1407.60" stroke="#000" stroke-width="2.06" stroke-linecap="round"/>
<text transform="translate(108.10 1407.60) rotate(-90)" text-anchor="middle" font-size="31.75"><tspan dy="3.0">&#8722;</tspan><tspan dy="-3.0">3.0</tspan></text>
<line x1="202.00" y1="1429.80" x2="202.00" y2="1449.80" stroke="#000" stroke-width="2.06" stroke-linecap="round"/>
<text x="202.00" y="1499.00" text-anchor="middle" font-size="31.75">0.0</text>
<line x1="500.57" y1="1429.80" x2="500.57" y2="1449.80" stroke="#000" stroke-width="2.06" stroke-linecap="round"/>
<text x="500.57" y="1499.00" text-anchor="middle" font-size="31.75">0.5</text>
<line x1="799.15" y1="1429.80" x2="799.15" y2="1449.80" stroke="#000" stroke-width="2.06" stroke-linecap="round"/>
<text x="799.15" y="1499.00" text-anchor="middle" font-size="31.75">1.0</text>
<line x1="1097.72" y1="1429.80" x2="1097.72" y2="1449.80" stroke="#000" stroke-width="2.06" stroke-linecap="round"/>
<text x="1097.72" y="1499.00" text-anchor="middle" font-size="31.75">1.5</text>
<line x1="1396.30" y1="1429.80" x2="1396.30" y2="1449.80" stroke="#000" stroke-width="2.06" stroke-linecap="round"/>
<text x="1396.30" y="1499.00" text-anchor="middle" font-size="31.75">2.0</text>
<text x="799.40" y="1575.20" text-anchor="middle" font-size="31.75">Age (years)</text>
<text transform="translate(32.10 1128.45) rotate(-90)" text-anchor="middle" font-size="31.75">sds weight</text>
<text transform="translate(22.30 825.10) scale(0.900 1)" font-size="35.80" font-weight="bold">B</text>
<path d="M202.00 1411.04L204.00 1407.59L206.00 1404.13L208.00 1400.68L210.00 1397.24L212.00 1393.81L214.00 1390.40L216.00 1387.00L218.00 1383.63L220.00 1380.29L222.01 1376.98L224.01 1373.70L226.01 1370.45L228.01 1367.24L230.01 1364.06L232.01 1360.91L234.01 1357.79L236.01 1354.69L238.01 1351.62L240.01 1348.57L242.01 1345.55L244.01 1342.54L246.01 1339.56L248.01 1336.59L250.01 1333.63L252.01 1330.69L254.01 1327.77L256.01 1324.85L258.01 1321.95L260.01 1319.06L262.02 1316.19L264.02 1313.33L266.02 1310.48L268.02 1307.64L270.02 1304.83L272.02 1302.02L274.02 1299.23L276.02 1296.46L278.02 1293.70L280.02 1290.95L282.02 1288.23L284.02 1285.52L286.02 1282.82L288.02 1280.15L290.02 1277.49L292.02 1274.84L294.02 1272.22L296.02 1269.61L298.02 1267.02L300.02 1264.45L302.03 1261.90L304.03 1259.37L306.03 1256.86L308.03 1254.37L310.03 1251.89L312.03 1249.44L314.03 1247.01L316.03 1244.60L318.03 1242.21L320.03 1239.84L322.03 1237.49L324.03 1235.16L326.03 1232.86L328.03 1230.58L330.03 1228.32L332.03 1226.09L334.03 1223.87L336.03 1221.68L338.03 1219.52L340.03 1217.38L342.04 1215.26L344.04 1213.16L346.04 1211.09L348.04 1209.05L350.04 1207.03L352.04 1205.03L354.04 1203.06L356.04 1201.12L358.04 1199.20L360.04 1197.31L362.04 1195.44L364.04 1193.60L366.04 1191.78L368.04 1190.00L370.04 1188.24L372.04 1186.50L374.04 1184.80L376.04 1183.12L378.04 1181.47L380.04 1179.85L382.05 1178.26L384.05 1176.69L386.05 1175.16L388.05 1173.65L390.05 1172.17L392.05 1170.73L394.05 1169.31L396.05 1167.92L398.05 1166.56L400.05 1165.23L402.05 1163.94L404.05 1162.67L406.05 1161.43L408.05 1160.23L410.05 1159.06L412.05 1157.92L414.05 1156.81L416.05 1155.73L418.05 1154.69L420.05 1153.68L422.06 1152.70L424.06 1151.75L426.06 1150.84L428.06 1149.96L430.06 1149.11L432.06 1148.30L434.06 1147.53L436.06 1146.78L438.06 1146.07L440.06 1145.40L442.06 1144.76L444.06 1144.16L446.06 1143.59L448.06 1143.06L450.06 1142.56L452.06 1142.10L454.06 1141.68L456.06 1141.29L458.06 1140.94L460.06 1140.63L462.07 1140.36L464.07 1140.12L466.07 1139.92L468.07 1139.76L470.07 1139.63L472.07 1139.55L474.07 1139.50L476.07 1139.48L478.07 1139.50L480.07 1139.55L482.07 1139.62L484.07 1139.73L486.07 1139.86L488.07 1140.01L490.07 1140.19L492.07 1140.38L494.07 1140.59L496.07 1140.82L498.07 1141.06L500.07 1141.31L502.08 1141.58L504.08 1141.85L506.08 1142.13L508.08 1142.41L510.08 1142.70L512.08 1142.99L514.08 1143.28L516.08 1143.56L518.08 1143.84L520.08 1144.11L522.08 1144.38L524.08 1144.63L526.08 1144.88L528.08 1145.12L530.08 1145.35L532.08 1145.57L534.08 1145.78L536.08 1145.99L538.08 1146.19L540.08 1146.37L542.09 1146.55L544.09 1146.72L546.09 1146.88L548.09 1147.04L550.09 1147.18L552.09 1147.31L554.09 1147.44L556.09 1147.56L558.09 1147.66L560.09 1147.76L562.09 1147.85L564.09 1147.93L566.09 1148.00L568.09 1148.06L570.09 1148.12L572.09 1148.16L574.09 1148.19L576.09 1148.22L578.09 1148.23L580.09 1148.24L582.10 1148.23L584.10 1148.22L586.10 1148.19L588.10 1148.16L590.10 1148.12L592.10 1148.07L594.10 1148.00L596.10 1147.93L598.10 1147.85L600.10 1147.76L602.10 1147.66L604.10 1147.54L606.10 1147.42L608.10 1147.29L610.10 1147.15L612.10 1147.00L614.10 1146.84L616.10 1146.68L618.10 1146.50L620.11 1146.32L622.11 1146.14L624.11 1145.94L626.11 1145.74L628.11 1145.53L630.11 1145.32L632.11 1145.11L634.11 1144.89L636.11 1144.66L638.11 1144.43L640.11 1144.20L642.11 1143.96L644.11 1143.73L646.11 1143.49L648.11 1143.25L650.11 1143.00L652.11 1142.76L654.11 1142.52L656.11 1142.27L658.11 1142.03L660.12 1141.78L662.12 1141.54L664.12 1141.30L666.12 1141.06L668.12 1140.82L670.12 1140.59L672.12 1140.36L674.12 1140.13L676.12 1139.90L678.12 1139.68L680.12 1139.47L682.12 1139.26L684.12 1139.05L686.12 1138.85L688.12 1138.66L690.12 1138.47L692.12 1138.29L694.12 1138.12L696.12 1137.95L698.12 1137.80L700.13 1137.65L702.13 1137.51L704.13 1137.38L706.13 1137.26L708.13 1137.15L710.13 1137.04L712.13 1136.95L714.13 1136.87L716.13 1136.79L718.13 1136.72L720.13 1136.66L722.13 1136.61L724.13 1136.57L726.13 1136.53L728.13 1136.51L730.13 1136.49L732.13 1136.48L734.13 1136.48L736.13 1136.48L738.13 1136.50L740.14 1136.52L742.14 1136.55L744.14 1136.58L746.14 1136.63L748.14 1136.68L750.14 1136.74L752.14 1136.80L754.14 1136.87L756.14 1136.95L758.14 1137.03L760.14 1137.13L762.14 1137.22L764.14 1137.33L766.14 1137.44L768.14 1137.56L770.14 1137.68L772.14 1137.81L774.14 1137.95L776.14 1138.09L778.14 1138.23L780.15 1138.39L782.15 1138.54L784.15 1138.71L786.15 1138.88L788.15 1139.05L790.15 1139.23L792.15 1139.41L794.15 1139.59L796.15 1139.78L798.15 1139.98L800.15 1140.17L802.15 1140.38L804.15 1140.58L806.15 1140.79L808.15 1141.00L810.15 1141.21L812.15 1141.42L814.15 1141.64L816.15 1141.86L818.15 1142.08L820.16 1142.31L822.16 1142.53L824.16 1142.76L826.16 1142.99L828.16 1143.22L830.16 1143.44L832.16 1143.67L834.16 1143.91L836.16 1144.14L838.16 1144.37L840.16 1144.60L842.16 1144.83L844.16 1145.06L846.16 1145.29L848.16 1145.52L850.16 1145.74L852.16 1145.97L854.16 1146.19L856.16 1146.42L858.16 1146.64L860.17 1146.86L862.17 1147.07L864.17 1147.29L866.17 1147.50L868.17 1147.71L870.17 1147.92L872.17 1148.12L874.17 1148.32L876.17 1148.52L878.17 1148.71L880.17 1148.90L882.17 1149.09L884.17 1149.27L886.17 1149.45L888.17 1149.63L890.17 1149.81L892.17 1149.98L894.17 1150.15L896.17 1150.32L898.17 1150.48L900.18 1150.64L902.18 1150.80L904.18 1150.96L906.18 1151.11L908.18 1151.27L910.18 1151.42L912.18 1151.56L914.18 1151.71L916.18 1151.85L918.18 1151.99L920.18 1152.13L922.18 1152.27L924.18 1152.40L926.18 1152.54L928.18 1152.67L930.18 1152.80L932.18 1152.92L934.18 1153.05L936.18 1153.17L938.18 1153.30L940.19 1153.42L942.19 1153.54L944.19 1153.66L946.19 1153.77L948.19 1153.89L950.19 1154.00L952.19 1154.11L954.19 1154.23L956.19 1154.34L958.19 1154.45L960.19 1154.56L962.19 1154.66L964.19 1154.77L966.19 1154.88L968.19 1154.98L970.19 1155.09L972.19 1155.19L974.19 1155.29L976.19 1155.39L978.19 1155.49L980.20 1155.59L982.20 1155.69L984.20 1155.79L986.20 1155.89L988.20 1155.99L990.20 1156.08L992.20 1156.17L994.20 1156.27L996.20 1156.36L998.20 1156.45L1000.20 1156.54L1002.20 1156.63L1004.20 1156.71L1006.20 1156.80L1008.20 1156.88L1010.20 1156.96L1012.20 1157.04L1014.20 1157.12L1016.20 1157.20L1018.21 1157.28L1020.21 1157.35L1022.21 1157.42L1024.21 1157.50L1026.21 1157.56L1028.21 1157.63L1030.21 1157.70L1032.21 1157.76L1034.21 1157.82L1036.21 1157.88L1038.21 1157.94L1040.21 1158.00L1042.21 1158.05L1044.21 1158.10L1046.21 1158.15L1048.21 1158.20L1050.21 1158.24L1052.21 1158.29L1054.21 1158.33L1056.21 1158.37L1058.22 1158.40L1060.22 1158.44L1062.22 1158.47L1064.22 1158.50L1066.22 1158.52L1068.22 1158.55L1070.22 1158.57L1072.22 1158.58L1074.22 1158.60L1076.22 1158.61L1078.22 1158.62L1080.22 1158.63L1082.22 1158.64L1084.22 1158.64L1086.22 1158.64L1088.22 1158.63L1090.22 1158.63L1092.22 1158.62L1094.22 1158.60L1096.22 1158.59L1098.23 1158.57L1100.23 1158.55L1102.23 1158.52L1104.23 1158.49L1106.23 1158.46L1108.23 1158.43L1110.23 1158.39L1112.23 1158.35L1114.23 1158.30L1116.23 1158.25L1118.23 1158.20L1120.23 1158.15L1122.23 1158.09L1124.23 1158.03L1126.23 1157.96L1128.23 1157.89L1130.23 1157.82L1132.23 1157.74L1134.23 1157.66L1136.23 1157.57L1138.24 1157.48L1140.24 1157.39L1142.24 1157.30L1144.24 1157.19L1146.24 1157.09L1148.24 1156.98L1150.24 1156.87L1152.24 1156.75L1154.24 1156.63L1156.24 1156.51L1158.24 1156.38L1160.24 1156.25L1162.24 1156.11L1164.24 1155.97L1166.24 1155.82L1168.24 1155.67L1170.24 1155.52L1172.24 1155.36L1174.24 1155.20L1176.24 1155.03L1178.25 1154.86L1180.25 1154.69L1182.25 1154.51L1184.25 1154.33L1186.25 1154.14L1188.25 1153.95L1190.25 1153.76L1192.25 1153.56L1194.25 1153.36L1196.25 1153.15L1198.25 1152.94L1200.25 1152.72L1202.25 1152.50L1204.25 1152.28L1206.25 1152.05L1208.25 1151.82L1210.25 1151.59L1212.25 1151.35L1214.25 1151.10L1216.25 1150.85L1218.26 1150.60L1220.26 1150.35L1222.26 1150.08L1224.26 1149.82L1226.26 1149.55L1228.26 1149.28L1230.26 1149.00L1232.26 1148.72L1234.26 1148.44L1236.26 1148.15L1238.26 1147.85L1240.26 1147.56L1242.26 1147.25L1244.26 1146.95L1246.26 1146.64L1248.26 1146.32L1250.26 1146.01L1252.26 1145.68L1254.26 1145.36L1256.26 1145.03L1258.27 1144.69L1260.27 1144.35L1262.27 1144.01L1264.27 1143.66L1266.27 1143.31L1268.27 1142.96L1270.27 1142.60L1272.27 1142.23L1274.27 1141.87L1276.27 1141.50L1278.27 1141.12L1280.27 1140.74L1282.27 1140.35L1284.27 1139.97L1286.27 1139.57L1288.27 1139.18L1290.27 1138.78L1292.27 1138.37L1294.27 1137.96L1296.27 1137.55L1298.28 1137.13L1300.28 1136.71L1302.28 1136.29L1304.28 1135.86L1306.28 1135.42L1308.28 1134.98L1310.28 1134.54L1312.28 1134.10L1314.28 1133.64L1316.28 1133.19L1318.28 1132.73L1320.28 1132.27L1322.28 1131.80L1324.28 1131.33L1326.28 1130.85L1328.28 1130.38L1330.28 1129.89L1332.28 1129.40L1334.28 1128.91L1336.28 1128.42L1338.29 1127.92L1340.29 1127.41L1342.29 1126.90L1344.29 1126.39L1346.29 1125.87L1348.29 1125.35L1350.29 1124.83L1352.29 1124.30L1354.29 1123.76L1356.29 1123.23L1358.29 1122.69L1360.29 1122.14L1362.29 1121.59L1364.29 1121.04L1366.29 1120.48L1368.29 1119.91L1370.29 1119.35L1372.29 1118.78L1374.29 1118.20L1376.29 1117.62L1378.30 1117.04L1380.30 1116.45L1382.30 1115.86L1384.30 1115.26L1386.30 1114.66L1388.30 1114.06L1390.30 1113.45L1392.30 1112.84L1394.30 1112.22L1396.30 1111.60" fill="none" stroke="#000" stroke-width="5.96" stroke-linecap="round" stroke-linejoin="round"/>
<path d="M202.00 1228.26L204.00 1225.26L206.00 1222.29L208.00 1219.33L210.00 1216.38L212.00 1213.46L214.00 1210.55L216.00 1207.66L218.00 1204.78L220.00 1201.92L222.01 1199.08L224.01 1196.25L226.01 1193.44L228.01 1190.65L230.01 1187.88L232.01 1185.12L234.01 1182.38L236.01 1179.66L238.01 1176.95L240.01 1174.27L242.01 1171.60L244.01 1168.94L246.01 1166.31L248.01 1163.69L250.01 1161.09L252.01 1158.51L254.01 1155.94L256.01 1153.39L258.01 1150.86L260.01 1148.35L262.02 1145.86L264.02 1143.38L266.02 1140.93L268.02 1138.49L270.02 1136.06L272.02 1133.66L274.02 1131.28L276.02 1128.91L278.02 1126.56L280.02 1124.23L282.02 1121.92L284.02 1119.63L286.02 1117.35L288.02 1115.10L290.02 1112.86L292.02 1110.64L294.02 1108.44L296.02 1106.26L298.02 1104.10L300.02 1101.95L302.03 1099.83L304.03 1097.72L306.03 1095.64L308.03 1093.57L310.03 1091.52L312.03 1089.49L314.03 1087.48L316.03 1085.50L318.03 1083.53L320.03 1081.58L322.03 1079.65L324.03 1077.74L326.03 1075.85L328.03 1073.98L330.03 1072.13L332.03 1070.30L334.03 1068.49L336.03 1066.71L338.03 1064.94L340.03 1063.20L342.04 1061.47L344.04 1059.77L346.04 1058.09L348.04 1056.43L350.04 1054.79L352.04 1053.17L354.04 1051.58L356.04 1050.00L358.04 1048.45L360.04 1046.92L362.04 1045.41L364.04 1043.92L366.04 1042.46L368.04 1041.02L370.04 1039.60L372.04 1038.20L374.04 1036.83L376.04 1035.48L378.04 1034.15L380.04 1032.85L382.05 1031.57L384.05 1030.31L386.05 1029.07L388.05 1027.86L390.05 1026.67L392.05 1025.51L394.05 1024.37L396.05 1023.25L398.05 1022.16L400.05 1021.09L402.05 1020.04L404.05 1019.02L406.05 1018.03L408.05 1017.06L410.05 1016.11L412.05 1015.19L414.05 1014.29L416.05 1013.42L418.05 1012.57L420.05 1011.75L422.06 1010.95L424.06 1010.18L426.06 1009.43L428.06 1008.71L430.06 1008.02L432.06 1007.35L434.06 1006.70L436.06 1006.09L438.06 1005.50L440.06 1004.93L442.06 1004.39L444.06 1003.88L446.06 1003.39L448.06 1002.93L450.06 1002.49L452.06 1002.08L454.06 1001.69L456.06 1001.32L458.06 1000.97L460.06 1000.65L462.07 1000.35L464.07 1000.07L466.07 999.81L468.07 999.57L470.07 999.34L472.07 999.14L474.07 998.95L476.07 998.78L478.07 998.63L480.07 998.49L482.07 998.37L484.07 998.27L486.07 998.18L488.07 998.10L490.07 998.03L492.07 997.98L494.07 997.94L496.07 997.92L498.07 997.90L500.07 997.90L502.08 997.90L504.08 997.91L506.08 997.94L508.08 997.97L510.08 998.01L512.08 998.05L514.08 998.11L516.08 998.17L518.08 998.23L520.08 998.30L522.08 998.38L524.08 998.45L526.08 998.53L528.08 998.62L530.08 998.70L532.08 998.79L534.08 998.88L536.08 998.97L538.08 999.06L540.08 999.15L542.09 999.24L544.09 999.33L546.09 999.41L548.09 999.50L550.09 999.59L552.09 999.67L554.09 999.76L556.09 999.84L558.09 999.92L560.09 1000.00L562.09 1000.07L564.09 1000.15L566.09 1000.22L568.09 1000.29L570.09 1000.35L572.09 1000.41L574.09 1000.47L576.09 1000.53L578.09 1000.58L580.09 1000.63L582.10 1000.68L584.10 1000.72L586.10 1000.76L588.10 1000.79L590.10 1000.82L592.10 1000.85L594.10 1000.87L596.10 1000.88L598.10 1000.89L600.10 1000.89L602.10 1000.89L604.10 1000.88L606.10 1000.87L608.10 1000.85L610.10 1000.83L612.10 1000.80L614.10 1000.77L616.10 1000.73L618.10 1000.69L620.11 1000.64L622.11 1000.60L624.11 1000.54L626.11 1000.49L628.11 1000.43L630.11 1000.37L632.11 1000.31L634.11 1000.25L636.11 1000.18L638.11 1000.12L640.11 1000.05L642.11 999.98L644.11 999.91L646.11 999.84L648.11 999.77L650.11 999.70L652.11 999.63L654.11 999.57L656.11 999.50L658.11 999.43L660.12 999.37L662.12 999.31L664.12 999.25L666.12 999.19L668.12 999.14L670.12 999.08L672.12 999.03L674.12 998.99L676.12 998.95L678.12 998.91L680.12 998.88L682.12 998.85L684.12 998.82L686.12 998.81L688.12 998.79L690.12 998.78L692.12 998.78L694.12 998.79L696.12 998.80L698.12 998.81L700.13 998.84L702.13 998.87L704.13 998.91L706.13 998.95L708.13 999.00L710.13 999.06L712.13 999.12L714.13 999.19L716.13 999.26L718.13 999.34L720.13 999.43L722.13 999.52L724.13 999.61L726.13 999.71L728.13 999.82L730.13 999.93L732.13 1000.04L734.13 1000.16L736.13 1000.29L738.13 1000.42L740.14 1000.55L742.14 1000.69L744.14 1000.83L746.14 1000.97L748.14 1001.12L750.14 1001.27L752.14 1001.43L754.14 1001.59L756.14 1001.75L758.14 1001.91L760.14 1002.08L762.14 1002.25L764.14 1002.42L766.14 1002.59L768.14 1002.77L770.14 1002.95L772.14 1003.13L774.14 1003.31L776.14 1003.50L778.14 1003.68L780.15 1003.87L782.15 1004.06L784.15 1004.25L786.15 1004.44L788.15 1004.63L790.15 1004.83L792.15 1005.02L794.15 1005.22L796.15 1005.41L798.15 1005.61L800.15 1005.81L802.15 1006.00L804.15 1006.20L806.15 1006.40L808.15 1006.60L810.15 1006.80L812.15 1007.00L814.15 1007.20L816.15 1007.40L818.15 1007.59L820.16 1007.79L822.16 1007.99L824.16 1008.19L826.16 1008.39L828.16 1008.58L830.16 1008.78L832.16 1008.97L834.16 1009.17L836.16 1009.36L838.16 1009.55L840.16 1009.74L842.16 1009.93L844.16 1010.12L846.16 1010.31L848.16 1010.49L850.16 1010.68L852.16 1010.86L854.16 1011.04L856.16 1011.22L858.16 1011.39L860.17 1011.57L862.17 1011.74L864.17 1011.91L866.17 1012.08L868.17 1012.24L870.17 1012.40L872.17 1012.56L874.17 1012.72L876.17 1012.87L878.17 1013.03L880.17 1013.17L882.17 1013.32L884.17 1013.46L886.17 1013.60L888.17 1013.74L890.17 1013.87L892.17 1014.00L894.17 1014.12L896.17 1014.25L898.17 1014.36L900.18 1014.48L902.18 1014.59L904.18 1014.69L906.18 1014.80L908.18 1014.89L910.18 1014.99L912.18 1015.08L914.18 1015.16L916.18 1015.24L918.18 1015.31L920.18 1015.39L922.18 1015.45L924.18 1015.51L926.18 1015.57L928.18 1015.62L930.18 1015.66L932.18 1015.70L934.18 1015.74L936.18 1015.77L938.18 1015.79L940.19 1015.81L942.19 1015.82L944.19 1015.83L946.19 1015.83L948.19 1015.83L950.19 1015.82L952.19 1015.81L954.19 1015.79L956.19 1015.77L958.19 1015.74L960.19 1015.71L962.19 1015.67L964.19 1015.63L966.19 1015.58L968.19 1015.53L970.19 1015.47L972.19 1015.41L974.19 1015.35L976.19 1015.28L978.19 1015.21L980.20 1015.13L982.20 1015.05L984.20 1014.96L986.20 1014.87L988.20 1014.78L990.20 1014.68L992.20 1014.58L994.20 1014.48L996.20 1014.37L998.20 1014.26L1000.20 1014.14L1002.20 1014.02L1004.20 1013.90L1006.20 1013.77L1008.20 1013.65L1010.20 1013.51L1012.20 1013.38L1014.20 1013.24L1016.20 1013.10L1018.21 1012.95L1020.21 1012.81L1022.21 1012.66L1024.21 1012.50L1026.21 1012.35L1028.21 1012.19L1030.21 1012.03L1032.21 1011.86L1034.21 1011.70L1036.21 1011.53L1038.21 1011.36L1040.21 1011.19L1042.21 1011.01L1044.21 1010.84L1046.21 1010.66L1048.21 1010.47L1050.21 1010.29L1052.21 1010.11L1054.21 1009.92L1056.21 1009.73L1058.22 1009.54L1060.22 1009.35L1062.22 1009.16L1064.22 1008.96L1066.22 1008.76L1068.22 1008.57L1070.22 1008.37L1072.22 1008.17L1074.22 1007.97L1076.22 1007.76L1078.22 1007.56L1080.22 1007.35L1082.22 1007.15L1084.22 1006.94L1086.22 1006.74L1088.22 1006.53L1090.22 1006.32L1092.22 1006.11L1094.22 1005.90L1096.22 1005.69L1098.23 1005.48L1100.23 1005.27L1102.23 1005.06L1104.23 1004.85L1106.23 1004.64L1108.23 1004.42L1110.23 1004.21L1112.23 1004.00L1114.23 1003.79L1116.23 1003.58L1118.23 1003.37L1120.23 1003.15L1122.23 1002.94L1124.23 1002.73L1126.23 1002.52L1128.23 1002.31L1130.23 1002.10L1132.23 1001.89L1134.23 1001.67L1136.23 1001.46L1138.24 1001.25L1140.24 1001.04L1142.24 1000.83L1144.24 1000.62L1146.24 1000.41L1148.24 1000.20L1150.24 999.99L1152.24 999.78L1154.24 999.58L1156.24 999.37L1158.24 999.16L1160.24 998.95L1162.24 998.74L1164.24 998.54L1166.24 998.33L1168.24 998.12L1170.24 997.92L1172.24 997.71L1174.24 997.51L1176.24 997.30L1178.25 997.10L1180.25 996.90L1182.25 996.70L1184.25 996.49L1186.25 996.29L1188.25 996.09L1190.25 995.89L1192.25 995.69L1194.25 995.49L1196.25 995.29L1198.25 995.09L1200.25 994.90L1202.25 994.70L1204.25 994.50L1206.25 994.31L1208.25 994.11L1210.25 993.92L1212.25 993.73L1214.25 993.53L1216.25 993.34L1218.26 993.15L1220.26 992.96L1222.26 992.77L1224.26 992.59L1226.26 992.40L1228.26 992.21L1230.26 992.03L1232.26 991.84L1234.26 991.66L1236.26 991.48L1238.26 991.29L1240.26 991.11L1242.26 990.93L1244.26 990.75L1246.26 990.58L1248.26 990.40L1250.26 990.23L1252.26 990.05L1254.26 989.88L1256.26 989.70L1258.27 989.53L1260.27 989.36L1262.27 989.19L1264.27 989.03L1266.27 988.86L1268.27 988.70L1270.27 988.53L1272.27 988.37L1274.27 988.21L1276.27 988.05L1278.27 987.89L1280.27 987.73L1282.27 987.57L1284.27 987.42L1286.27 987.26L1288.27 987.11L1290.27 986.96L1292.27 986.81L1294.27 986.66L1296.27 986.52L1298.28 986.37L1300.28 986.23L1302.28 986.08L1304.28 985.94L1306.28 985.80L1308.28 985.67L1310.28 985.53L1312.28 985.39L1314.28 985.26L1316.28 985.13L1318.28 985.00L1320.28 984.87L1322.28 984.74L1324.28 984.62L1326.28 984.50L1328.28 984.37L1330.28 984.25L1332.28 984.14L1334.28 984.02L1336.28 983.90L1338.29 983.79L1340.29 983.68L1342.29 983.57L1344.29 983.46L1346.29 983.36L1348.29 983.25L1350.29 983.15L1352.29 983.05L1354.29 982.95L1356.29 982.85L1358.29 982.76L1360.29 982.67L1362.29 982.57L1364.29 982.49L1366.29 982.40L1368.29 982.31L1370.29 982.23L1372.29 982.15L1374.29 982.07L1376.29 981.99L1378.30 981.92L1380.30 981.85L1382.30 981.78L1384.30 981.71L1386.30 981.64L1388.30 981.58L1390.30 981.51L1392.30 981.45L1394.30 981.40L1396.30 981.34" fill="none" stroke="#f00" stroke-width="5.96" stroke-linecap="round" stroke-linejoin="round" stroke-dasharray="17.87 29.79"/>
<path d="M202.00 1062.69L204.00 1061.43L206.00 1060.17L208.00 1058.91L210.00 1057.64L212.00 1056.38L214.00 1055.11L216.00 1053.84L218.00 1052.57L220.00 1051.30L222.01 1050.03L224.01 1048.75L226.01 1047.48L228.01 1046.20L230.01 1044.92L232.01 1043.64L234.01 1042.36L236.01 1041.08L238.01 1039.80L240.01 1038.52L242.01 1037.24L244.01 1035.95L246.01 1034.67L248.01 1033.38L250.01 1032.09L252.01 1030.80L254.01 1029.52L256.01 1028.23L258.01 1026.94L260.01 1025.65L262.02 1024.36L264.02 1023.06L266.02 1021.77L268.02 1020.48L270.02 1019.19L272.02 1017.89L274.02 1016.60L276.02 1015.31L278.02 1014.01L280.02 1012.72L282.02 1011.42L284.02 1010.13L286.02 1008.84L288.02 1007.55L290.02 1006.26L292.02 1004.97L294.02 1003.68L296.02 1002.40L298.02 1001.12L300.02 999.84L302.03 998.57L304.03 997.30L306.03 996.03L308.03 994.77L310.03 993.51L312.03 992.26L314.03 991.01L316.03 989.77L318.03 988.54L320.03 987.31L322.03 986.08L324.03 984.87L326.03 983.66L328.03 982.46L330.03 981.27L332.03 980.09L334.03 978.91L336.03 977.75L338.03 976.59L340.03 975.44L342.04 974.31L344.04 973.18L346.04 972.06L348.04 970.96L350.04 969.86L352.04 968.78L354.04 967.71L356.04 966.65L358.04 965.60L360.04 964.57L362.04 963.55L364.04 962.54L366.04 961.55L368.04 960.57L370.04 959.61L372.04 958.66L374.04 957.72L376.04 956.80L378.04 955.90L380.04 955.01L382.05 954.14L384.05 953.29L386.05 952.45L388.05 951.63L390.05 950.83L392.05 950.04L394.05 949.28L396.05 948.53L398.05 947.80L400.05 947.09L402.05 946.40L404.05 945.73L406.05 945.08L408.05 944.45L410.05 943.85L412.05 943.26L414.05 942.69L416.05 942.15L418.05 941.63L420.05 941.13L422.06 940.65L424.06 940.20L426.06 939.77L428.06 939.37L430.06 938.99L432.06 938.63L434.06 938.30L436.06 937.99L438.06 937.70L440.06 937.44L442.06 937.20L444.06 936.99L446.06 936.79L448.06 936.62L450.06 936.46L452.06 936.33L454.06 936.22L456.06 936.12L458.06 936.05L460.06 935.99L462.07 935.95L464.07 935.93L466.07 935.92L468.07 935.93L470.07 935.96L472.07 936.00L474.07 936.06L476.07 936.13L478.07 936.21L480.07 936.31L482.07 936.42L484.07 936.54L486.07 936.68L488.07 936.83L490.07 936.99L492.07 937.15L494.07 937.33L496.07 937.52L498.07 937.72L500.07 937.92L502.08 938.14L504.08 938.36L506.08 938.59L508.08 938.83L510.08 939.07L512.08 939.32L514.08 939.58L516.08 939.85L518.08 940.12L520.08 940.39L522.08 940.67L524.08 940.96L526.08 941.25L528.08 941.54L530.08 941.84L532.08 942.14L534.08 942.45L536.08 942.76L538.08 943.07L540.08 943.39L542.09 943.70L544.09 944.02L546.09 944.34L548.09 944.66L550.09 944.99L552.09 945.31L554.09 945.63L556.09 945.96L558.09 946.28L560.09 946.60L562.09 946.92L564.09 947.25L566.09 947.56L568.09 947.88L570.09 948.20L572.09 948.51L574.09 948.82L576.09 949.13L578.09 949.43L580.09 949.73L582.10 950.03L584.10 950.32L586.10 950.61L588.10 950.89L590.10 951.17L592.10 951.44L594.10 951.71L596.10 951.98L598.10 952.24L600.10 952.49L602.10 952.75L604.10 953.00L606.10 953.24L608.10 953.48L610.10 953.72L612.10 953.95L614.10 954.18L616.10 954.41L618.10 954.63L620.11 954.85L622.11 955.07L624.11 955.28L626.11 955.49L628.11 955.70L630.11 955.90L632.11 956.11L634.11 956.31L636.11 956.50L638.11 956.70L640.11 956.89L642.11 957.08L644.11 957.27L646.11 957.46L648.11 957.65L650.11 957.83L652.11 958.01L654.11 958.19L656.11 958.37L658.11 958.55L660.12 958.72L662.12 958.89L664.12 959.06L666.12 959.23L668.12 959.40L670.12 959.56L672.12 959.72L674.12 959.88L676.12 960.03L678.12 960.18L680.12 960.33L682.12 960.48L684.12 960.62L686.12 960.76L688.12 960.90L690.12 961.03L692.12 961.16L694.12 961.28L696.12 961.40L698.12 961.52L700.13 961.63L702.13 961.74L704.13 961.84L706.13 961.94L708.13 962.04L710.13 962.13L712.13 962.22L714.13 962.30L716.13 962.38L718.13 962.45L720.13 962.51L722.13 962.58L724.13 962.63L726.13 962.68L728.13 962.73L730.13 962.77L732.13 962.80L734.13 962.83L736.13 962.85L738.13 962.87L740.14 962.88L742.14 962.89L744.14 962.89L746.14 962.88L748.14 962.87L750.14 962.86L752.14 962.84L754.14 962.82L756.14 962.80L758.14 962.77L760.14 962.74L762.14 962.70L764.14 962.67L766.14 962.63L768.14 962.58L770.14 962.54L772.14 962.49L774.14 962.44L776.14 962.39L778.14 962.34L780.15 962.28L782.15 962.23L784.15 962.18L786.15 962.12L788.15 962.06L790.15 962.01L792.15 961.95L794.15 961.90L796.15 961.84L798.15 961.79L800.15 961.73L802.15 961.68L804.15 961.63L806.15 961.58L808.15 961.53L810.15 961.48L812.15 961.44L814.15 961.39L816.15 961.35L818.15 961.30L820.16 961.26L822.16 961.22L824.16 961.18L826.16 961.14L828.16 961.10L830.16 961.07L832.16 961.03L834.16 961.00L836.16 960.97L838.16 960.93L840.16 960.90L842.16 960.87L844.16 960.84L846.16 960.81L848.16 960.79L850.16 960.76L852.16 960.74L854.16 960.71L856.16 960.69L858.16 960.67L860.17 960.65L862.17 960.63L864.17 960.61L866.17 960.59L868.17 960.57L870.17 960.55L872.17 960.54L874.17 960.52L876.17 960.51L878.17 960.50L880.17 960.49L882.17 960.47L884.17 960.46L886.17 960.45L888.17 960.45L890.17 960.44L892.17 960.43L894.17 960.43L896.17 960.42L898.17 960.42L900.18 960.41L902.18 960.41L904.18 960.41L906.18 960.41L908.18 960.41L910.18 960.41L912.18 960.41L914.18 960.41L916.18 960.41L918.18 960.41L920.18 960.42L922.18 960.42L924.18 960.43L926.18 960.43L928.18 960.44L930.18 960.45L932.18 960.46L934.18 960.47L936.18 960.48L938.18 960.49L940.19 960.50L942.19 960.51L944.19 960.52L946.19 960.53L948.19 960.55L950.19 960.56L952.19 960.57L954.19 960.59L956.19 960.60L958.19 960.62L960.19 960.64L962.19 960.65L964.19 960.67L966.19 960.69L968.19 960.71L970.19 960.73L972.19 960.75L974.19 960.77L976.19 960.79L978.19 960.81L980.20 960.83L982.20 960.86L984.20 960.88L986.20 960.90L988.20 960.93L990.20 960.95L992.20 960.97L994.20 961.00L996.20 961.02L998.20 961.05L1000.20 961.08L1002.20 961.10L1004.20 961.13L1006.20 961.16L1008.20 961.19L1010.20 961.21L1012.20 961.24L1014.20 961.27L1016.20 961.30L1018.21 961.33L1020.21 961.36L1022.21 961.39L1024.21 961.42L1026.21 961.45L1028.21 961.48L1030.21 961.51L1032.21 961.54L1034.21 961.58L1036.21 961.61L1038.21 961.64L1040.21 961.67L1042.21 961.70L1044.21 961.74L1046.21 961.77L1048.21 961.80L1050.21 961.84L1052.21 961.87L1054.21 961.91L1056.21 961.94L1058.22 961.97L1060.22 962.01L1062.22 962.04L1064.22 962.08L1066.22 962.11L1068.22 962.15L1070.22 962.18L1072.22 962.22L1074.22 962.25L1076.22 962.29L1078.22 962.32L1080.22 962.36L1082.22 962.39L1084.22 962.43L1086.22 962.47L1088.22 962.50L1090.22 962.54L1092.22 962.57L1094.22 962.61L1096.22 962.65L1098.23 962.68L1100.23 962.72L1102.23 962.75L1104.23 962.79L1106.23 962.82L1108.23 962.86L1110.23 962.90L1112.23 962.93L1114.23 962.97L1116.23 963.00L1118.23 963.04L1120.23 963.07L1122.23 963.11L1124.23 963.14L1126.23 963.17L1128.23 963.21L1130.23 963.24L1132.23 963.27L1134.23 963.30L1136.23 963.33L1138.24 963.36L1140.24 963.39L1142.24 963.42L1144.24 963.45L1146.24 963.47L1148.24 963.50L1150.24 963.52L1152.24 963.54L1154.24 963.56L1156.24 963.58L1158.24 963.60L1160.24 963.62L1162.24 963.63L1164.24 963.65L1166.24 963.66L1168.24 963.67L1170.24 963.68L1172.24 963.69L1174.24 963.69L1176.24 963.70L1178.25 963.70L1180.25 963.70L1182.25 963.70L1184.25 963.69L1186.25 963.69L1188.25 963.68L1190.25 963.67L1192.25 963.65L1194.25 963.64L1196.25 963.62L1198.25 963.60L1200.25 963.57L1202.25 963.55L1204.25 963.52L1206.25 963.49L1208.25 963.45L1210.25 963.42L1212.25 963.38L1214.25 963.33L1216.25 963.29L1218.26 963.24L1220.26 963.19L1222.26 963.13L1224.26 963.07L1226.26 963.01L1228.26 962.95L1230.26 962.88L1232.26 962.81L1234.26 962.73L1236.26 962.65L1238.26 962.57L1240.26 962.48L1242.26 962.39L1244.26 962.30L1246.26 962.20L1248.26 962.10L1250.26 961.99L1252.26 961.88L1254.26 961.77L1256.26 961.65L1258.27 961.53L1260.27 961.40L1262.27 961.27L1264.27 961.14L1266.27 961.00L1268.27 960.85L1270.27 960.71L1272.27 960.56L1274.27 960.40L1276.27 960.24L1278.27 960.08L1280.27 959.92L1282.27 959.75L1284.27 959.58L1286.27 959.40L1288.27 959.22L1290.27 959.04L1292.27 958.86L1294.27 958.67L1296.27 958.48L1298.28 958.29L1300.28 958.09L1302.28 957.89L1304.28 957.69L1306.28 957.49L1308.28 957.28L1310.28 957.07L1312.28 956.86L1314.28 956.65L1316.28 956.44L1318.28 956.22L1320.28 956.01L1322.28 955.79L1324.28 955.57L1326.28 955.34L1328.28 955.12L1330.28 954.89L1332.28 954.67L1334.28 954.44L1336.28 954.21L1338.29 953.98L1340.29 953.75L1342.29 953.52L1344.29 953.28L1346.29 953.05L1348.29 952.82L1350.29 952.58L1352.29 952.35L1354.29 952.11L1356.29 951.88L1358.29 951.64L1360.29 951.40L1362.29 951.17L1364.29 950.93L1366.29 950.69L1368.29 950.46L1370.29 950.22L1372.29 949.99L1374.29 949.75L1376.29 949.52L1378.30 949.28L1380.30 949.05L1382.30 948.82L1384.30 948.59L1386.30 948.36L1388.30 948.13L1390.30 947.90L1392.30 947.67L1394.30 947.45L1396.30 947.22" fill="none" stroke="#00f" stroke-width="5.96" stroke-linecap="round" stroke-linejoin="round" stroke-dasharray="0 23.83 17.87 23.83"/>
<rect x="650.00" y="1221.50" width="236.00" height="152.50" fill="#fff" stroke="#000" stroke-width="2.06" stroke-linejoin="round"/>
<line x1="678.60" y1="1259.60" x2="735.70" y2="1259.60" stroke="#000" stroke-width="3.97" stroke-linecap="round"/>
<line x1="678.60" y1="1297.80" x2="735.70" y2="1297.80" stroke="#f00" stroke-width="3.97" stroke-linecap="round" stroke-dasharray="11.91 19.85"/>
<line x1="678.60" y1="1336.00" x2="735.70" y2="1336.00" stroke="#00f" stroke-width="3.97" stroke-linecap="round" stroke-dasharray="0 15.88 11.91 15.88"/>
<text x="763.30" y="1271.50" font-size="31.75">&lt;p3</text>
<text x="763.30" y="1310.80" font-size="31.75">p3<tspan dy="1.9">&#8722;</tspan><tspan dy="-1.9">p10</tspan></text>
<text x="763.30" y="1347.70" font-size="31.75">&gt;p10</text>
</svg>
</body></html>
